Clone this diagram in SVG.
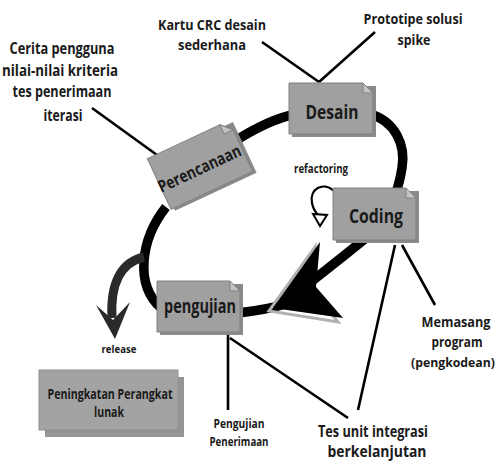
<svg xmlns="http://www.w3.org/2000/svg" width="501" height="462" viewBox="0 0 501 462">
<style>
text{font-family:"Open Sans","Noto Sans","DejaVu Sans",sans-serif;font-weight:700;fill:#1a1a1a}
.lbl{font-size:15px}
.mp{font-size:13.5px}
.box{fill:#a0a0a0;stroke:#808080;stroke-width:1}
.shd{fill:#8a8a8a}
.fold{fill:#c4c4c4;stroke:#808080;stroke-width:1}
.loop{fill:none;stroke:#000;stroke-width:9.5;stroke-linecap:butt}
.ln{fill:none;stroke:#000;stroke-width:2.6}
.bt{font-size:20px;fill:#1a1a1a}
</style>
<rect width="501" height="462" fill="#fff"/>
<g id="connectors">
  <path class="loop" d="M232 143 C255 128 275 118 296 114"/>
  <path class="loop" d="M370 114 C395 121 406 145 402 168 C400 180 398 187 396 192"/>
  <path class="loop" d="M366 238 C345 255 320 275 290 298"/>
  <path class="loop" d="M285 304 C270 309 255 311 238 313"/>
  <path class="loop" d="M166 207 C140 240 135 285 161 308"/>
  <path fill="none" stroke="#2a2a2a" stroke-width="9" d="M144 257 C122 262 110 282 112 318"/>
  <polygon fill="#2a2a2a" points="96,305 113,320 130,302 115,339"/>
  <polygon fill="none" stroke="#b0b0b0" stroke-width="3" points="269,311 315,247 313,291 338,322"/>
  <polygon fill="#000" points="273,308 320,242 316,287 343,318"/>
  <path class="ln" d="M319 82 L262 42 M319 82 L375 32"/>
  <path class="ln" d="M92 108 L157 155"/>
  <path class="ln" d="M395 245 L358 410 M402 245 L435 305"/>
  <path class="ln" d="M228 335 L228 410 M230 338 L348 418"/>
  <path fill="none" stroke="#000" stroke-width="2.2" d="M334 191 C323 181 309 189 312 203 C313 209 316 213 319 216"/>
  <polygon fill="#fff" stroke="#000" stroke-width="2" points="313,214 327,215 320,226"/>
</g>
<g id="desain">
  <rect class="shd" x="292" y="86" width="84" height="51"/>
  <path class="box" d="M289 83 H363 L373 93 V134 H289 Z"/>
  <path class="fold" d="M363 83 L363 93 L373 93 Z"/>
  <text class="bt" x="332" y="119" text-anchor="middle" textLength="53" lengthAdjust="spacingAndGlyphs">Desain</text>
</g>
<g id="coding">
  <rect class="shd" x="336" y="191" width="83" height="52"/>
  <path class="box" d="M333 188 H406 L416 198 V240 H333 Z"/>
  <path class="fold" d="M406 188 L406 198 L416 198 Z"/>
  <text class="bt" x="376" y="223" text-anchor="middle" textLength="54" lengthAdjust="spacingAndGlyphs">Coding</text>
</g>
<g id="pengujian">
  <rect class="shd" x="160" y="284" width="83" height="51"/>
  <path class="box" d="M157 281 H230 L240 291 V332 H157 Z"/>
  <path class="fold" d="M230 281 L230 291 L240 291 Z"/>
  <text class="bt" x="200" y="313" text-anchor="middle" textLength="72" lengthAdjust="spacingAndGlyphs" style="font-size:19px">pengujian</text>
</g>
<g id="perencanaan" transform="rotate(-25 200 165)">
  <rect class="shd" x="158" y="140" width="90" height="56"/>
  <path class="box" d="M155 137 H235 L245 147 V193 H155 Z"/>
  <path class="fold" d="M235 137 L235 147 L245 147 Z"/>
  <text x="198" y="174" text-anchor="middle" textLength="90" lengthAdjust="spacingAndGlyphs" style="font-size:17px">Perencanaan</text>
</g>
<g id="peningkatan">
  <rect x="45" y="377" width="139" height="60" fill="#959595"/>
  <rect x="39" y="370" width="139" height="60" fill="#a3a3a3" stroke="#909090"/>
  <text x="110" y="399" text-anchor="middle" textLength="125" lengthAdjust="spacingAndGlyphs" style="font-size:14px">Peningkatan Perangkat</text>
  <text x="109" y="417" text-anchor="middle" textLength="30" lengthAdjust="spacingAndGlyphs" style="font-size:14px">lunak</text>
</g>
<g id="labels">
  <text class="lbl" x="212" y="30" text-anchor="middle" textLength="108" lengthAdjust="spacingAndGlyphs">Kartu CRC desain</text>
  <text class="lbl" x="212" y="50" text-anchor="middle" textLength="68" lengthAdjust="spacingAndGlyphs">sederhana</text>
  <text class="lbl" x="413" y="24" text-anchor="middle" textLength="99" lengthAdjust="spacingAndGlyphs">Prototipe solusi</text>
  <text class="lbl" x="414" y="45" text-anchor="middle" textLength="33" lengthAdjust="spacingAndGlyphs">spike</text>
  <text class="lbl" x="62" y="54" text-anchor="middle" textLength="105" lengthAdjust="spacingAndGlyphs" style="font-size:16px">Cerita pengguna</text>
  <text class="lbl" x="60" y="76" text-anchor="middle" textLength="116" lengthAdjust="spacingAndGlyphs" style="font-size:16px">nilai-nilai kriteria</text>
  <text class="lbl" x="62" y="97" text-anchor="middle" textLength="99" lengthAdjust="spacingAndGlyphs" style="font-size:16px">tes penerimaan</text>
  <text class="lbl" x="63" y="121" text-anchor="middle" textLength="39" lengthAdjust="spacingAndGlyphs" style="font-size:16px">iterasi</text>
  <text x="321" y="173" text-anchor="middle" textLength="54" lengthAdjust="spacingAndGlyphs" style="font-size:12px">refactoring</text>
  <text x="119" y="353" text-anchor="middle" textLength="35" lengthAdjust="spacingAndGlyphs" style="font-size:11px">release</text>
  <text x="239" y="428" text-anchor="middle" textLength="51" lengthAdjust="spacingAndGlyphs" style="font-size:12.5px">Pengujian</text>
  <text x="239" y="446" text-anchor="middle" textLength="59" lengthAdjust="spacingAndGlyphs" style="font-size:12.5px">Penerimaan</text>
  <text x="373" y="437" text-anchor="middle" textLength="110" lengthAdjust="spacingAndGlyphs" style="font-size:16px">Tes unit integrasi</text>
  <text x="377" y="457" text-anchor="middle" textLength="99" lengthAdjust="spacingAndGlyphs" style="font-size:16px">berkelanjutan</text>
  <text class="mp" x="456" y="327" text-anchor="middle" textLength="69" lengthAdjust="spacingAndGlyphs">Memasang</text>
  <text class="mp" x="457" y="347" text-anchor="middle" textLength="51" lengthAdjust="spacingAndGlyphs">program</text>
  <text x="453" y="367" text-anchor="middle" textLength="84" lengthAdjust="spacingAndGlyphs" style="font-size:12.5px">(pengkodean)</text>
</g>
</svg>
